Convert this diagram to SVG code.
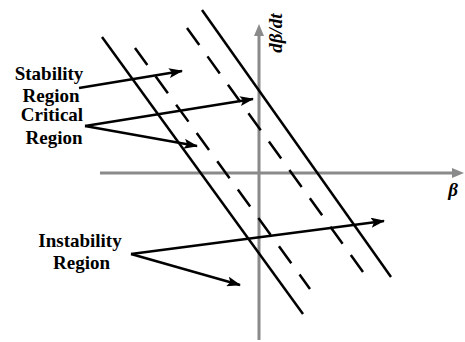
<svg xmlns="http://www.w3.org/2000/svg" width="465" height="342" viewBox="0 0 465 342">
<defs>
<style>
.ax{stroke:#8a8a8a;stroke-width:3;fill:none}
.ln{stroke:#000;stroke-width:2.5;fill:none}
.ds{stroke-dasharray:21 14}
.ar{stroke:#000;stroke-width:2.5;fill:none;marker-end:url(#ah)}
.lbl{font-family:"Liberation Serif","Times New Roman",serif;font-weight:bold;font-size:19px;fill:#000;text-anchor:middle}
.it{font-style:italic}
</style>
<marker id="ah" markerWidth="14" markerHeight="10" refX="13" refY="5" orient="auto" markerUnits="userSpaceOnUse">
<path d="M0,0 L14,5 L0,10 L3,5 Z" fill="#000"/>
</marker>
</defs>
<rect width="465" height="342" fill="#fff"/>
<g id="axes">
<line class="ax" x1="100" y1="173" x2="453" y2="173"/>
<path d="M464,173 L452,168 L452,178 Z" fill="#8a8a8a"/>
<line class="ax" x1="259" y1="340" x2="259" y2="34"/>
<path d="M259,24 L254,36 L264,36 Z" fill="#8a8a8a"/>
</g>
<g id="boundaries">
<line class="ln" x1="102" y1="37" x2="303" y2="314"/>
<line class="ln" x1="202" y1="10" x2="391" y2="277"/>
<line class="ln ds" x1="135" y1="48" x2="310" y2="289"/>
<line class="ln ds" x1="187" y1="28" x2="363" y2="272"/>
</g>
<g id="connectors">
<line class="ar" x1="79" y1="88" x2="182" y2="71"/>
<line class="ar" x1="85" y1="126" x2="253" y2="99"/>
<line class="ar" x1="85" y1="126" x2="197" y2="146"/>
<line class="ar" x1="131" y1="254" x2="384" y2="221"/>
<line class="ar" x1="131" y1="254" x2="240" y2="285"/>
</g>
<g id="stability">
<text class="lbl" x="49" y="79.5" font-family="Liberation Serif">Stability</text>
<text class="lbl" x="51" y="101.5" font-family="Liberation Serif">Region</text>
</g>
<g id="critical">
<text class="lbl" x="52" y="120.5" font-family="Liberation Serif">Critical</text>
<text class="lbl" x="54" y="143.5" font-family="Liberation Serif">Region</text>
</g>
<g id="instability">
<text class="lbl" x="80" y="246.5" font-family="Liberation Serif">Instability</text>
<text class="lbl" x="81.5" y="268.5" font-family="Liberation Serif">Region</text>
</g>
<g id="labels">
<text class="lbl it" transform="translate(282,33) rotate(-90)" font-family="Liberation Serif">dβ/dt</text>
<text class="lbl it" x="453" y="196" font-family="Liberation Serif">β</text>
</g>
</svg>
